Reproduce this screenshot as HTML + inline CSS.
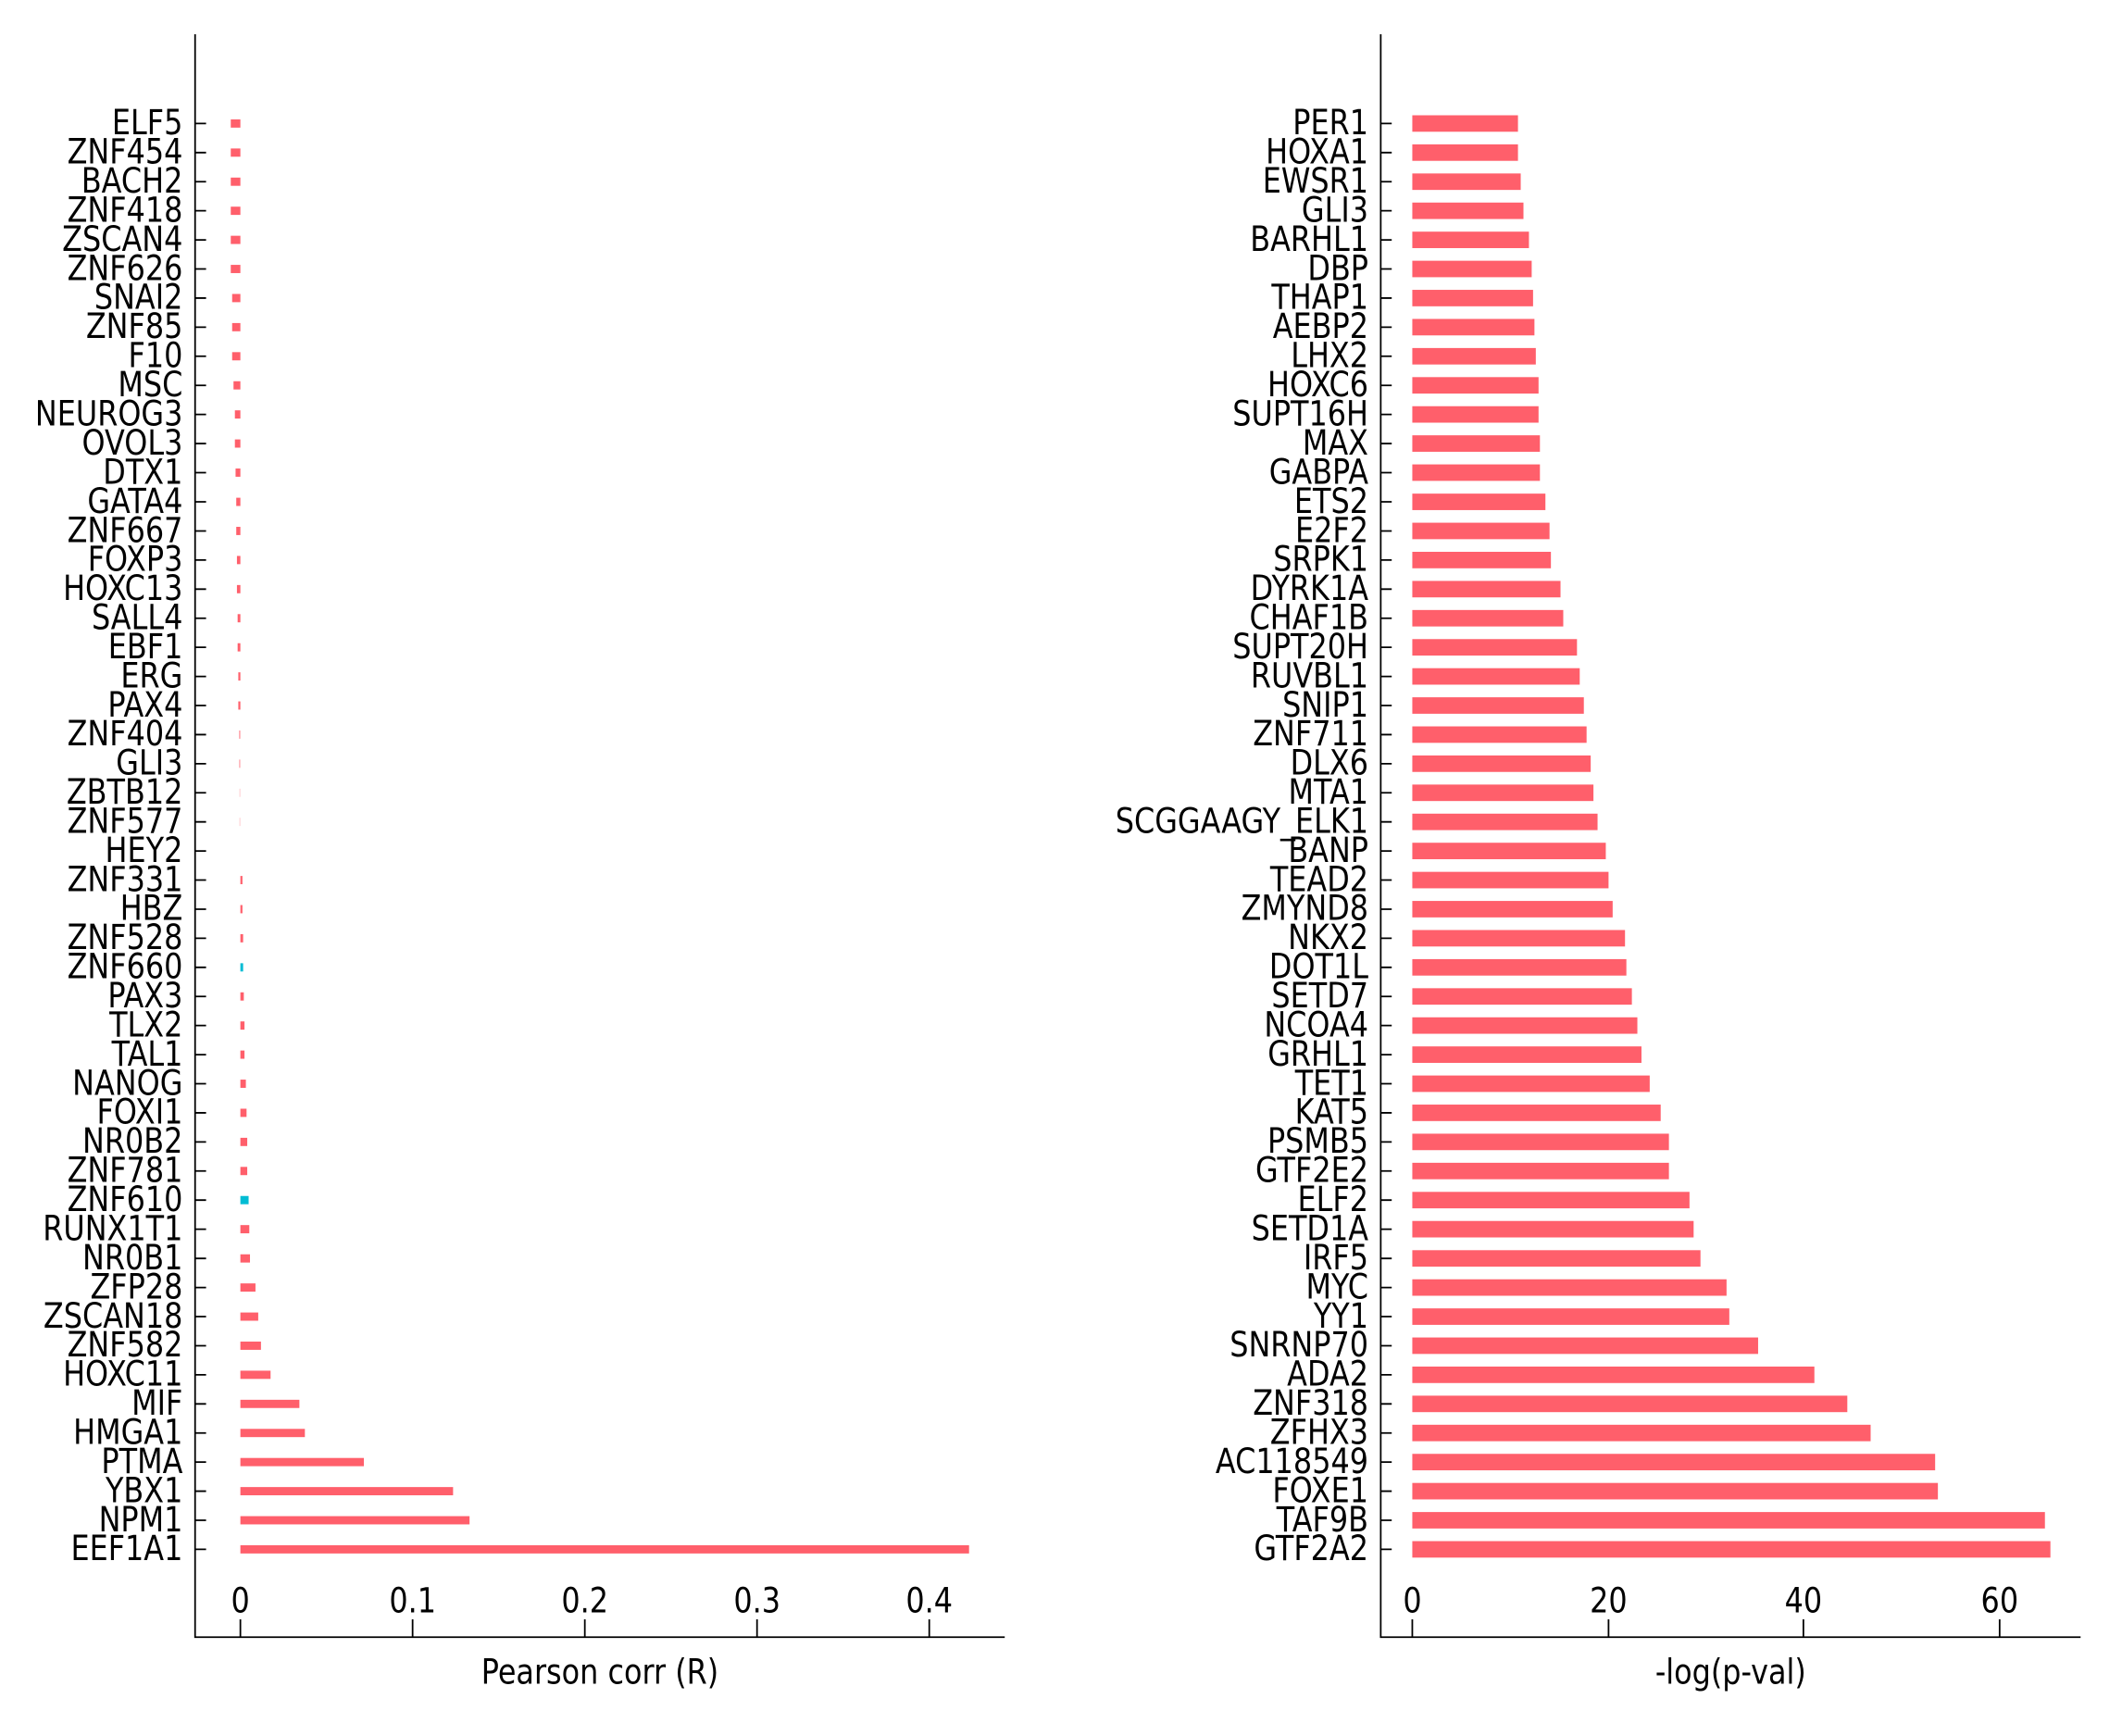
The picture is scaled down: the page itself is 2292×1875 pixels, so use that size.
<!DOCTYPE html>
<html><head><meta charset="utf-8"><style>
html,body{margin:0;padding:0;background:#fff;}
svg{display:block;}
text{font-family:"DejaVu Sans","Liberation Sans",sans-serif;fill:#000;}
</style></head><body>
<svg width="2292" height="1875" viewBox="0 0 1546 1265" xmlns="http://www.w3.org/2000/svg">
<g stroke="#000" stroke-width="1.2" fill="none">
<path d="M142 25V1193H732"/>
<path d="M175 1193v-13M300.5 1193v-13M426 1193v-13M551.5 1193v-13M677 1193v-13"/>
<path d="M1006 25V1193H1516"/>
<path d="M1029 1193v-13M1172 1193v-13M1314 1193v-13M1457 1193v-13"/>
</g>
<g font-size="25" text-anchor="middle">
<text transform="translate(175 1175) scale(0.86 1)">0</text><text transform="translate(300.5 1175) scale(0.86 1)">0.1</text><text transform="translate(426 1175) scale(0.86 1)">0.2</text><text transform="translate(551.5 1175) scale(0.86 1)">0.3</text><text transform="translate(677 1175) scale(0.86 1)">0.4</text>
<text transform="translate(437 1227) scale(0.86 1)">Pearson corr (R)</text>
<text transform="translate(1029 1175) scale(0.86 1)">0</text><text transform="translate(1172 1175) scale(0.86 1)">20</text><text transform="translate(1314 1175) scale(0.86 1)">40</text><text transform="translate(1457 1175) scale(0.86 1)">60</text>
<text transform="translate(1261 1227) scale(0.86 1)">-log(p-val)</text>
</g>
<g font-size="25" text-anchor="end" dominant-baseline="central" transform="translate(133 0) scale(0.86 1) translate(-133 0)">
<text x="133" y="90">ELF5</text><text x="133" y="111.2">ZNF454</text><text x="133" y="132.4">BACH2</text><text x="133" y="153.6">ZNF418</text><text x="133" y="174.8">ZSCAN4</text><text x="133" y="196">ZNF626</text><text x="133" y="217.2">SNAI2</text><text x="133" y="238.4">ZNF85</text><text x="133" y="259.6">F10</text><text x="133" y="280.8">MSC</text><text x="133" y="302">NEUROG3</text><text x="133" y="323.2">OVOL3</text><text x="133" y="344.4">DTX1</text><text x="133" y="365.7">GATA4</text><text x="133" y="386.9">ZNF667</text><text x="133" y="408.1">FOXP3</text><text x="133" y="429.3">HOXC13</text><text x="133" y="450.5">SALL4</text><text x="133" y="471.7">EBF1</text><text x="133" y="492.9">ERG</text><text x="133" y="514.1">PAX4</text><text x="133" y="535.3">ZNF404</text><text x="133" y="556.5">GLI3</text><text x="133" y="577.7">ZBTB12</text><text x="133" y="598.9">ZNF577</text><text x="133" y="620.1">HEY2</text><text x="133" y="641.3">ZNF331</text><text x="133" y="662.5">HBZ</text><text x="133" y="683.7">ZNF528</text><text x="133" y="704.9">ZNF660</text><text x="133" y="726.1">PAX3</text><text x="133" y="747.3">TLX2</text><text x="133" y="768.5">TAL1</text><text x="133" y="789.7">NANOG</text><text x="133" y="810.9">FOXI1</text><text x="133" y="832.1">NR0B2</text><text x="133" y="853.3">ZNF781</text><text x="133" y="874.5">ZNF610</text><text x="133" y="895.7">RUNX1T1</text><text x="133" y="917">NR0B1</text><text x="133" y="938.2">ZFP28</text><text x="133" y="959.4">ZSCAN18</text><text x="133" y="980.6">ZNF582</text><text x="133" y="1001.8">HOXC11</text><text x="133" y="1023">MIF</text><text x="133" y="1044.2">HMGA1</text><text x="133" y="1065.4">PTMA</text><text x="133" y="1086.6">YBX1</text><text x="133" y="1107.8">NPM1</text><text x="133" y="1129">EEF1A1</text>
</g>
<g font-size="25" text-anchor="end" dominant-baseline="central" transform="translate(997 0) scale(0.86 1) translate(-997 0)">
<text x="997" y="90">PER1</text><text x="997" y="111.2">HOXA1</text><text x="997" y="132.4">EWSR1</text><text x="997" y="153.6">GLI3</text><text x="997" y="174.8">BARHL1</text><text x="997" y="196">DBP</text><text x="997" y="217.2">THAP1</text><text x="997" y="238.4">AEBP2</text><text x="997" y="259.6">LHX2</text><text x="997" y="280.8">HOXC6</text><text x="997" y="302">SUPT16H</text><text x="997" y="323.2">MAX</text><text x="997" y="344.4">GABPA</text><text x="997" y="365.7">ETS2</text><text x="997" y="386.9">E2F2</text><text x="997" y="408.1">SRPK1</text><text x="997" y="429.3">DYRK1A</text><text x="997" y="450.5">CHAF1B</text><text x="997" y="471.7">SUPT20H</text><text x="997" y="492.9">RUVBL1</text><text x="997" y="514.1">SNIP1</text><text x="997" y="535.3">ZNF711</text><text x="997" y="556.5">DLX6</text><text x="997" y="577.7">MTA1</text><text x="997" y="598.9">SCGGAAGY_ELK1</text><text x="997" y="620.1">BANP</text><text x="997" y="641.3">TEAD2</text><text x="997" y="662.5">ZMYND8</text><text x="997" y="683.7">NKX2</text><text x="997" y="704.9">DOT1L</text><text x="997" y="726.1">SETD7</text><text x="997" y="747.3">NCOA4</text><text x="997" y="768.5">GRHL1</text><text x="997" y="789.7">TET1</text><text x="997" y="810.9">KAT5</text><text x="997" y="832.1">PSMB5</text><text x="997" y="853.3">GTF2E2</text><text x="997" y="874.5">ELF2</text><text x="997" y="895.7">SETD1A</text><text x="997" y="917">IRF5</text><text x="997" y="938.2">MYC</text><text x="997" y="959.4">YY1</text><text x="997" y="980.6">SNRNP70</text><text x="997" y="1001.8">ADA2</text><text x="997" y="1023">ZNF318</text><text x="997" y="1044.2">ZFHX3</text><text x="997" y="1065.4">AC118549</text><text x="997" y="1086.6">FOXE1</text><text x="997" y="1107.8">TAF9B</text><text x="997" y="1129">GTF2A2</text>
</g>
<g stroke="#000" stroke-width="1.2">
<path d="M142 90h8M142 111.2h8M142 132.4h8M142 153.6h8M142 174.8h8M142 196h8M142 217.2h8M142 238.4h8M142 259.6h8M142 280.8h8M142 302h8M142 323.2h8M142 344.4h8M142 365.7h8M142 386.9h8M142 408.1h8M142 429.3h8M142 450.5h8M142 471.7h8M142 492.9h8M142 514.1h8M142 535.3h8M142 556.5h8M142 577.7h8M142 598.9h8M142 620.1h8M142 641.3h8M142 662.5h8M142 683.7h8M142 704.9h8M142 726.1h8M142 747.3h8M142 768.5h8M142 789.7h8M142 810.9h8M142 832.1h8M142 853.3h8M142 874.5h8M142 895.7h8M142 917h8M142 938.2h8M142 959.4h8M142 980.6h8M142 1001.8h8M142 1023h8M142 1044.2h8M142 1065.4h8M142 1086.6h8M142 1107.8h8M142 1129h8"/>
<path d="M1006 90h8M1006 111.2h8M1006 132.4h8M1006 153.6h8M1006 174.8h8M1006 196h8M1006 217.2h8M1006 238.4h8M1006 259.6h8M1006 280.8h8M1006 302h8M1006 323.2h8M1006 344.4h8M1006 365.7h8M1006 386.9h8M1006 408.1h8M1006 429.3h8M1006 450.5h8M1006 471.7h8M1006 492.9h8M1006 514.1h8M1006 535.3h8M1006 556.5h8M1006 577.7h8M1006 598.9h8M1006 620.1h8M1006 641.3h8M1006 662.5h8M1006 683.7h8M1006 704.9h8M1006 726.1h8M1006 747.3h8M1006 768.5h8M1006 789.7h8M1006 810.9h8M1006 832.1h8M1006 853.3h8M1006 874.5h8M1006 895.7h8M1006 917h8M1006 938.2h8M1006 959.4h8M1006 980.6h8M1006 1001.8h8M1006 1023h8M1006 1044.2h8M1006 1065.4h8M1006 1086.6h8M1006 1107.8h8M1006 1129h8"/>
</g>
<g fill="#FF5F6B">
<rect x="168" y="87" width="7" height="6"/><rect x="168" y="108.2" width="7" height="6"/><rect x="168" y="129.4" width="7" height="6"/><rect x="168" y="150.6" width="7" height="6"/><rect x="168" y="171.8" width="7" height="6"/><rect x="168" y="193" width="7" height="6"/><rect x="169" y="214.2" width="6" height="6"/><rect x="169" y="235.4" width="6" height="6"/><rect x="169" y="256.6" width="6" height="6"/><rect x="170" y="277.8" width="5" height="6"/><rect x="171" y="299" width="4" height="6"/><rect x="171" y="320.2" width="4" height="6"/><rect x="171.5" y="341.4" width="3.5" height="6"/><rect x="172" y="362.7" width="3" height="6"/><rect x="172" y="383.9" width="3" height="6"/><rect x="172.5" y="405.1" width="2.5" height="6"/><rect x="172.5" y="426.3" width="2.5" height="6"/><rect x="173" y="447.5" width="2" height="6"/><rect x="173" y="468.7" width="2" height="6"/><rect x="173.5" y="489.9" width="1.5" height="6"/><rect x="173.5" y="511.1" width="1.5" height="6"/>
<rect x="174" y="532.3" width="1" height="6" opacity="0.6"/><rect x="174" y="553.5" width="1" height="6" opacity="0.5"/><rect x="174.3" y="574.7" width="0.7" height="6" opacity="0.3"/><rect x="174.3" y="595.9" width="0.7" height="6" opacity="0.3"/>
<rect x="175" y="638.3" width="1.5" height="6"/><rect x="175" y="659.5" width="1.5" height="6"/><rect x="175" y="680.7" width="2" height="6"/>
<rect x="175" y="701.9" width="2" height="6" fill="#00BCD4"/>
<rect x="175" y="723.1" width="2.5" height="6"/><rect x="175" y="744.3" width="3" height="6"/><rect x="175" y="765.5" width="3" height="6"/><rect x="175" y="786.7" width="4" height="6"/><rect x="175" y="807.9" width="4.5" height="6"/><rect x="175" y="829.1" width="5" height="6"/><rect x="175" y="850.3" width="5" height="6"/>
<rect x="175" y="871.5" width="6" height="6" fill="#00BCD4"/>
<rect x="175" y="892.7" width="6.5" height="6"/><rect x="175" y="914" width="7" height="6"/><rect x="175" y="935.2" width="11" height="6"/><rect x="175" y="956.4" width="13" height="6"/><rect x="175" y="977.6" width="15" height="6"/><rect x="175" y="998.8" width="22" height="6"/><rect x="175" y="1020" width="43" height="6"/><rect x="175" y="1041.2" width="47" height="6"/><rect x="175" y="1062.4" width="90" height="6"/><rect x="175" y="1083.6" width="155" height="6"/><rect x="175" y="1104.8" width="167" height="6"/><rect x="175" y="1126" width="531" height="6"/>
</g>
<g fill="#FF5F6B">
<rect x="1029" y="84" width="77" height="12"/><rect x="1029" y="105.2" width="77" height="12"/><rect x="1029" y="126.4" width="79" height="12"/><rect x="1029" y="147.6" width="81" height="12"/><rect x="1029" y="168.8" width="85" height="12"/><rect x="1029" y="190" width="87" height="12"/><rect x="1029" y="211.2" width="88" height="12"/><rect x="1029" y="232.4" width="89" height="12"/><rect x="1029" y="253.6" width="90" height="12"/><rect x="1029" y="274.8" width="92" height="12"/><rect x="1029" y="296" width="92" height="12"/><rect x="1029" y="317.2" width="93" height="12"/><rect x="1029" y="338.4" width="93" height="12"/><rect x="1029" y="359.7" width="97" height="12"/><rect x="1029" y="380.9" width="100" height="12"/><rect x="1029" y="402.1" width="101" height="12"/><rect x="1029" y="423.3" width="108" height="12"/><rect x="1029" y="444.5" width="110" height="12"/><rect x="1029" y="465.7" width="120" height="12"/><rect x="1029" y="486.9" width="122" height="12"/><rect x="1029" y="508.1" width="125" height="12"/><rect x="1029" y="529.3" width="127" height="12"/><rect x="1029" y="550.5" width="130" height="12"/><rect x="1029" y="571.7" width="132" height="12"/><rect x="1029" y="592.9" width="135" height="12"/><rect x="1029" y="614.1" width="141" height="12"/><rect x="1029" y="635.3" width="143" height="12"/><rect x="1029" y="656.5" width="146" height="12"/><rect x="1029" y="677.7" width="155" height="12"/><rect x="1029" y="698.9" width="156" height="12"/><rect x="1029" y="720.1" width="160" height="12"/><rect x="1029" y="741.3" width="164" height="12"/><rect x="1029" y="762.5" width="167" height="12"/><rect x="1029" y="783.7" width="173" height="12"/><rect x="1029" y="804.9" width="181" height="12"/><rect x="1029" y="826.1" width="187" height="12"/><rect x="1029" y="847.3" width="187" height="12"/><rect x="1029" y="868.5" width="202" height="12"/><rect x="1029" y="889.7" width="205" height="12"/><rect x="1029" y="911" width="210" height="12"/><rect x="1029" y="932.2" width="229" height="12"/><rect x="1029" y="953.4" width="231" height="12"/><rect x="1029" y="974.6" width="252" height="12"/><rect x="1029" y="995.8" width="293" height="12"/><rect x="1029" y="1017" width="317" height="12"/><rect x="1029" y="1038.2" width="334" height="12"/><rect x="1029" y="1059.4" width="381" height="12"/><rect x="1029" y="1080.6" width="383" height="12"/><rect x="1029" y="1101.8" width="461" height="12"/><rect x="1029" y="1123" width="465" height="12"/>
</g>
</svg>
</body></html>
